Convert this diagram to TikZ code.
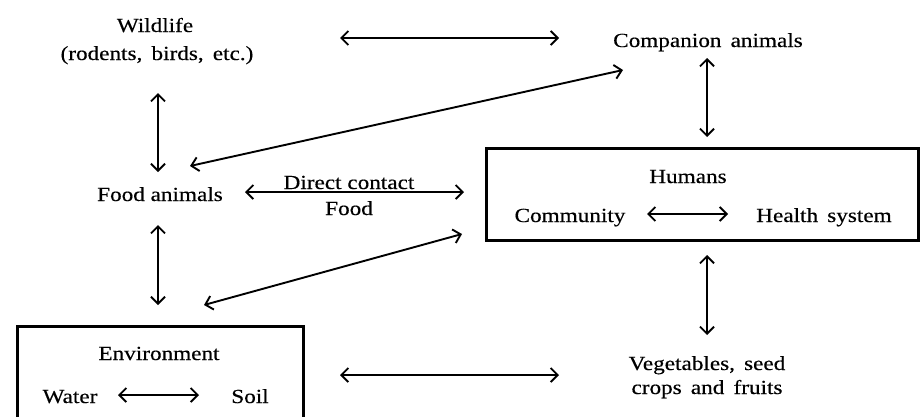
\documentclass[tikz,border=0pt]{standalone}
\usepackage{fontspec}
\setmainfont[FakeStretch=1.16,FakeBold=0.4]{Liberation Serif}
\usetikzlibrary{arrows.meta}
\begin{document}
\begin{tikzpicture}[x=1pt,y=-1pt,
  lbl/.style={font=\fontsize{20}{24}\selectfont, inner sep=0pt, anchor=base},
  link/.style={line width=1.9pt, {Straight Barb[length=7pt,width=14pt]}-{Straight Barb[length=7pt,width=14pt]}},
  frame/.style={line width=3pt}]
\useasboundingbox (0,0) rectangle (923,416);
% boxes
\draw[frame] (486,148) rectangle (918,240);
\draw[frame] (17,326) rectangle (303,430);
% labels
\node[lbl] (wild) at (155,32) {Wildlife};
\node[lbl] (wild2) at (157,60) {(rodents,\, birds,\, etc.)};
\node[lbl] (comp) at (708,47) {Companion\, animals};
\node[lbl] (food) at (160,201) {Food animals};
\node[lbl] (dc) at (349,189) {Direct contact};
\node[lbl] (fd) at (349,215) {Food};
\node[lbl] (hum) at (688,183) {Humans};
\node[lbl] (comm) at (570,222) {Community};
\node[lbl] (hs) at (824,222) {Health\, system};
\node[lbl] (env) at (159,360) {Environment};
\node[lbl] (water) at (70,403) {Water};
\node[lbl] (soil) at (250,403) {Soil};
\node[lbl] (veg) at (707,370) {Vegetables,\, seed};
\node[lbl] (veg2) at (707,394) {crops\, and\, fruits};
% connector end points
\coordinate (a1) at (340,38);  \coordinate (a2) at (559,38);
\coordinate (b1) at (158,93);  \coordinate (b2) at (158,172);
\coordinate (c1) at (190,166); \coordinate (c2) at (623,70);
\coordinate (d1) at (707,58);  \coordinate (d2) at (707,137);
\coordinate (e1) at (245,192); \coordinate (e2) at (464,192);
\coordinate (f1) at (158,225); \coordinate (f2) at (158,305);
\coordinate (g1) at (204,305); \coordinate (g2) at (462,234);
\coordinate (h1) at (707,255); \coordinate (h2) at (707,335);
\coordinate (i1) at (340,375); \coordinate (i2) at (559,375);
\coordinate (j1) at (647,214); \coordinate (j2) at (728,214);
\coordinate (k1) at (118,395); \coordinate (k2) at (199,395);
% connectors
\draw[link] (a1) -- (a2);
\draw[link] (b1) -- (b2);
\draw[link] (c1) -- (c2);
\draw[link] (d1) -- (d2);
\draw[link] (e1) -- (e2);
\draw[link] (f1) -- (f2);
\draw[link] (g1) -- (g2);
\draw[link] (h1) -- (h2);
\draw[link] (i1) -- (i2);
\draw[link] (j1) -- (j2);
\draw[link] (k1) -- (k2);
\end{tikzpicture}
\end{document}
